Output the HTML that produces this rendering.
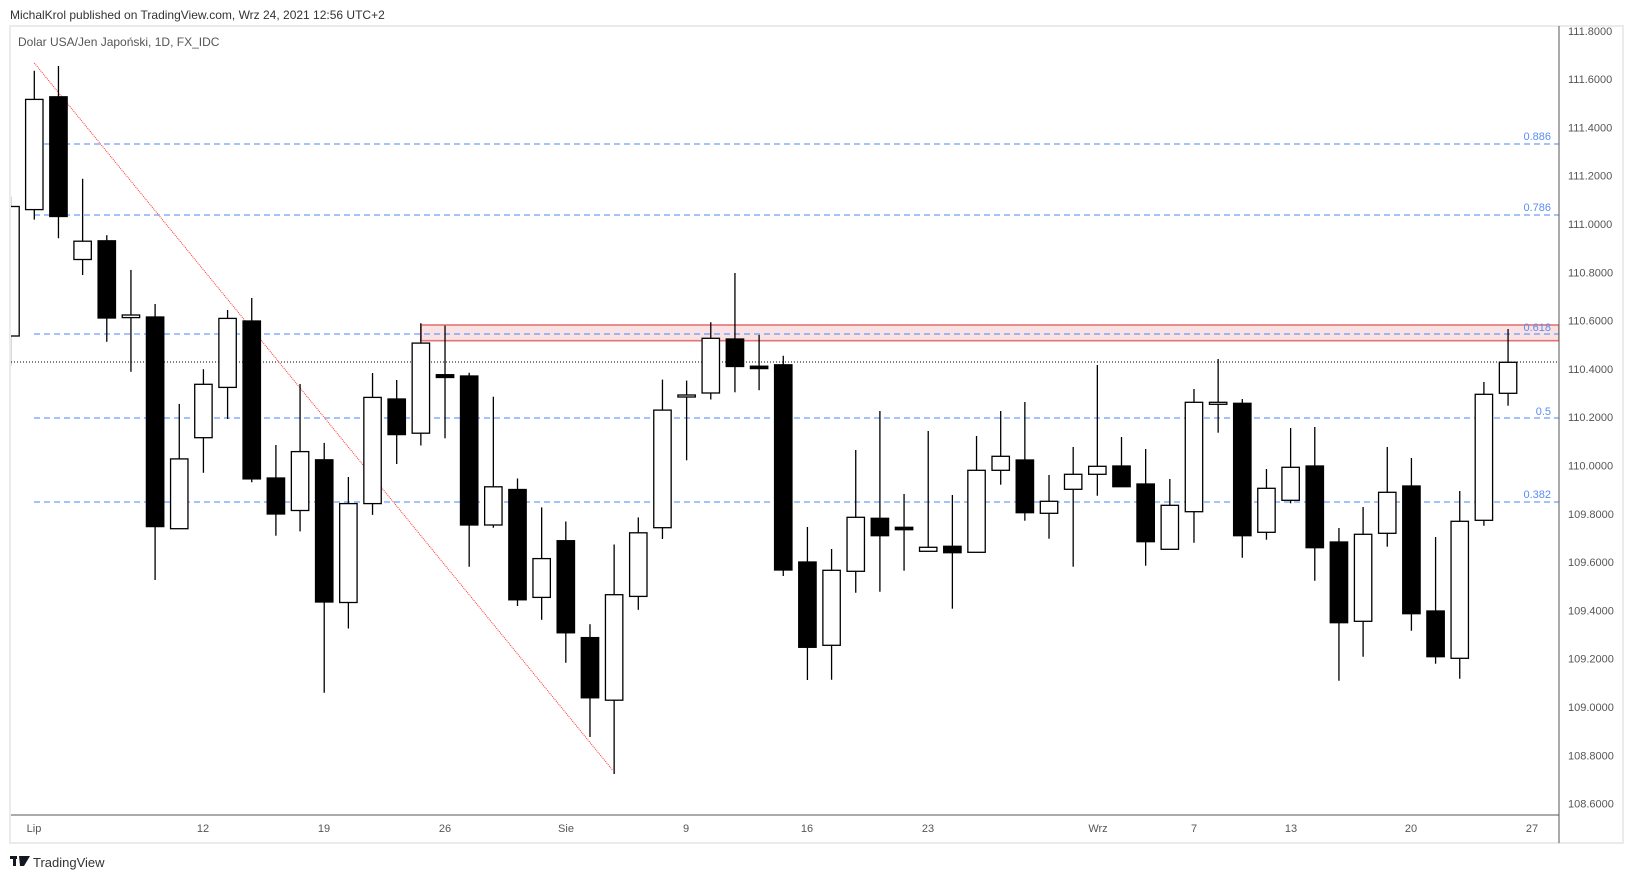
<!DOCTYPE html>
<html><head><meta charset="utf-8"><style>
html,body{margin:0;padding:0;background:#fff;width:1633px;height:878px;overflow:hidden}
svg{display:block;font-family:"Liberation Sans",sans-serif}
</style></head><body>
<svg id="s" width="1633" height="878" viewBox="0 0 1633 878" xmlns="http://www.w3.org/2000/svg">
<rect x="0" y="0" width="1633" height="878" fill="#fff"/>
<text x="10" y="19" font-size="12" fill="#333">MichalKrol published on TradingView.com, Wrz 24, 2021 12:56 UTC+2</text>
<rect x="10" y="26" width="1613" height="817" fill="#fff" stroke="#ebebef" stroke-width="2"/>
<text x="18" y="46" font-size="12" fill="#555">Dolar USA/Jen Japoński, 1D, FX_IDC</text>
<defs><clipPath id="cp"><rect x="11" y="27" width="1548" height="788"/></clipPath></defs>
<g clip-path="url(#cp)">
<rect x="421" y="325" width="1138" height="15.7" fill="#f9e2e3" stroke="#e57373" stroke-width="1.6"/>
<g stroke="#4a86f7" stroke-width="1" stroke-dasharray="6,4">
<line x1="34" y1="144" x2="1559" y2="144"/>
<line x1="34" y1="215" x2="1559" y2="215"/>
<line x1="34" y1="334" x2="1559" y2="334"/>
<line x1="34" y1="418" x2="1559" y2="418"/>
<line x1="34" y1="502" x2="1559" y2="502"/>
</g>
<line x1="11" y1="362" x2="1559" y2="362" stroke="#000" stroke-width="1" stroke-dasharray="1,2"/>
<line x1="34.3" y1="63" x2="613" y2="770.6" stroke="#f33" stroke-width="1" stroke-dasharray="1,1"/>
<g id="c" stroke="#000" stroke-width="1.3"></g>
</g>
<g font-size="11" fill="#5b8def" text-anchor="end">
<text x="1551" y="140">0.886</text>
<text x="1551" y="211">0.786</text>
<text x="1551" y="331">0.618</text>
<text x="1551" y="415">0.5</text>
<text x="1551" y="498">0.382</text>
</g>
<line x1="1559" y1="26" x2="1559" y2="843" stroke="#555" stroke-width="1"/>
<line x1="11" y1="815" x2="1559" y2="815" stroke="#555" stroke-width="1"/>
<g id="pl" font-size="11" fill="#555"></g>
<g font-size="11" fill="#555" text-anchor="middle">
<text x="34" y="832">Lip</text>
<text x="203" y="832">12</text>
<text x="324" y="832">19</text>
<text x="445" y="832">26</text>
<text x="566" y="832">Sie</text>
<text x="686" y="832">9</text>
<text x="807" y="832">16</text>
<text x="928" y="832">23</text>
<text x="1098" y="832">Wrz</text>
<text x="1194" y="832">7</text>
<text x="1291" y="832">13</text>
<text x="1411" y="832">20</text>
<text x="1532" y="832">27</text>
</g>
<g fill="#131722"><rect x="10" y="856" width="7" height="3"/><rect x="13" y="856" width="3" height="10"/><path d="M19 856 L30 856 L24 866 L20 866 Z"/></g>
<text x="33" y="867" font-size="13" fill="#333">TradingView</text>
</svg>
<script>
var d=[
[-1,'W',196.6,206.5,336,365.7],
[0,'W',70.8,99.4,209.6,219.6],[1,'B',66,96.8,216.5,238.2],[2,'W',178.8,241.2,259.5,275],
[3,'B',235.2,240.8,318,341.8],[4,'W',269.9,315,317.6,371.8],[5,'B',304,317,526.6,580],
[6,'W',403.9,458.9,528.7,528.7],[7,'W',369.2,384.3,437.7,472.8],[8,'W',310,318.4,387.4,419],
[9,'B',298,321,478.9,482.3],[10,'B',445,478,514,535.7],[11,'W',384,451.6,510.5,531.4],
[12,'B',442.9,459.8,602,692.7],[13,'W',477,503.6,602.5,628.5],[14,'W',373,397.4,503.6,514.9],
[15,'B',380,399,434.6,464],[16,'W',323.2,343.1,433.2,445.5],[17,'B',325.6,374.7,377.5,438.3],
[18,'B',372.7,376,525,566.8],[19,'W',396.7,486.8,525,527.7],[20,'B',478.5,489.5,599.8,606],
[21,'W',507.4,558.6,597.4,619.8],[22,'B',521.5,540.7,632.8,662.7],[23,'B',624.2,637.6,697.8,737],
[24,'W',544.5,594.7,700.2,774],[25,'W',517.4,532.8,596.4,609.8],[26,'W',379.6,410.1,527.7,539],
[27,'W',380.6,395,397,460.3],[28,'W',322.2,338.3,393,399.5],[29,'B',273,339,366.5,392.3],
[30,'B',334.9,366.2,368.6,390.2],[31,'B',355.8,364.8,570,576],[32,'B',527,562,647.3,680],
[33,'W',549,570.3,645.3,679.7],[34,'W',450,517.3,571.3,592.7],[35,'B',411,518.3,535.7,591.7],
[36,'B',494,527.3,529.7,570.7],[37,'W',431,547.3,551.3,551.3],[38,'B',495,546.3,552.7,608.7],
[39,'W',436,470.3,552.3,552.3],[40,'W',411,456.3,470.3,484.7],[41,'B',402,460,512.7,520.7],
[42,'W',475,501.3,513.3,538.7],[43,'W',447,474.3,489.3,566.7],[44,'W',365,466.3,474.3,495.7],
[45,'B',437,466,486.7,486.7],[46,'B',449,484,541.7,565.7],[47,'W',479,505.3,549.3,549.3],
[48,'W',389,402.3,511.7,542.7],[49,'W',359,402.3,404.3,432.7],[50,'B',399,403.3,535.7,557.7],
[51,'W',469,488.3,532.3,539.7],[52,'W',428,467.3,500.3,503.3],[53,'B',427,466,547.7,580.7],
[54,'B',528,542,622.7,680.7],[55,'W',507,534.3,621.3,656.7],[56,'W',447,492.3,533.3,546.7],
[57,'B',458,486,613.7,630.7],[58,'B',537,611,656.7,663.7],[59,'W',491,521.3,658.3,678.7],
[60,'W',382,394.3,520.3,525.7],[61,'W',329,362.3,393.3,405.7]];
var h='';
d.forEach(function(c){
 var x=34.3+24.16*c[0]; if(c[0]==-1)x=10.5;
 h+='<line x1="'+x+'" y1="'+c[2]+'" x2="'+x+'" y2="'+c[5]+'"/>';
 var hh=Math.max(c[4]-c[3],1.5);
 h+='<rect x="'+(x-8.7)+'" y="'+c[3]+'" width="17.4" height="'+hh+'" fill="'+(c[1]=='B'?'#000':'#fff')+'"/>';
});
var ns='http://www.w3.org/2000/svg';
var g=document.getElementById('c');
var tmp=new DOMParser().parseFromString('<svg xmlns="'+ns+'">'+h+'</svg>','image/svg+xml').documentElement;
while(tmp.firstChild)g.appendChild(document.importNode(tmp.firstChild,true)),tmp.removeChild(tmp.firstChild);
var p='';
for(var k=0;k<=16;k++){var v=(111.8-0.2*k).toFixed(4);p+='<text x="1568" y="'+(34.8+48.3*k)+'">'+v+'</text>';}
var t2=new DOMParser().parseFromString('<svg xmlns="'+ns+'">'+p+'</svg>','image/svg+xml').documentElement;
var pl=document.getElementById('pl');
while(t2.firstChild)pl.appendChild(document.importNode(t2.firstChild,true)),t2.removeChild(t2.firstChild);
</script>
</body></html>
